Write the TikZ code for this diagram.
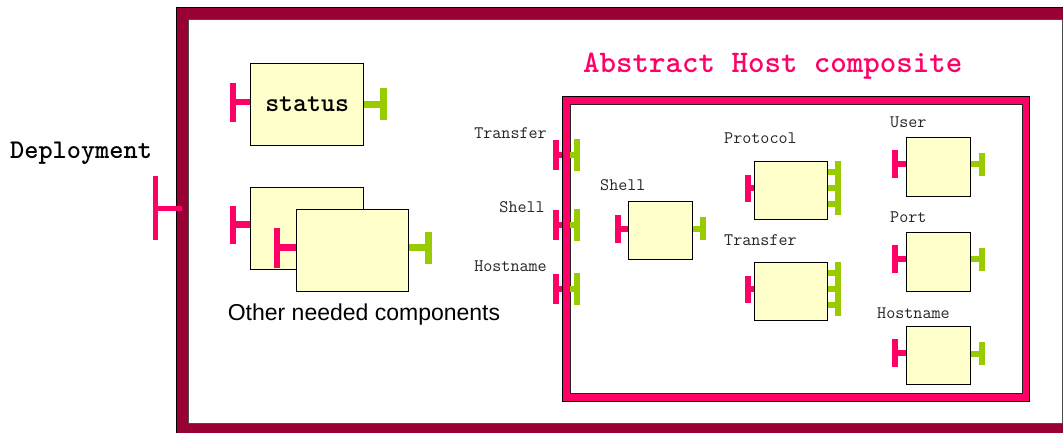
\documentclass[tikz,border=0pt]{standalone}
\usepackage{fontspec}
\setmainfont{Liberation Sans}
\usetikzlibrary{calc}
\definecolor{maroonc}{HTML}{990033}
\definecolor{hotpink}{HTML}{FF0066}
\definecolor{limeg}{HTML}{99CC00}
\definecolor{cream}{HTML}{FFFFCC}

\tikzset{
  comp/.style={draw=black, line width=1.3, fill=cream, inner sep=0pt, anchor=north west},
  lbl/.style={inner sep=0pt, font=\ttfamily\fontsize{17.6}{18}\selectfont, text=black!85},
  % provided port: pink T pointing left, #1 = stub length, #2 = half height, #3 = width
  pics/inport/.style n args={3}{code={
    \draw[hotpink, line width=#3] (0,0) -- (-#1,0);
    \draw[hotpink, line width=#3] (-#1,-#2) -- (-#1,#2);
  }},
  % required port: green T pointing right
  pics/outport/.style n args={3}{code={
    \draw[limeg, line width=#3] (0,0) -- (#1,0);
    \draw[limeg, line width=#3] (#1,-#2) -- (#1,#2);
  }},
  % three required ports sharing one bar
  pics/outtriple/.style n args={3}{code={
    \draw[limeg, line width=6] (0,-#3) -- (#1,-#3);
    \draw[limeg, line width=6] (0,0) -- (#1,0);
    \draw[limeg, line width=6] (0,#3) -- (#1,#3);
    \draw[limeg, line width=6] (#1,-#2) -- (#1,#2);
  }}
}

\begin{document}
\begin{tikzpicture}[x=1pt, y=-1pt]
\useasboundingbox (0,0) rectangle (1063,432);

% Deployment frame
\begin{scope}
  \clip (0,0) rectangle (1063,432);
  \filldraw[fill=maroonc, draw=black, line width=1] (176,7) rectangle (1085,445);
  \filldraw[fill=white, draw=black!70, line width=1] (188,19) rectangle (1062,423);
\end{scope}
\coordinate (depW) at (182,208);

\node[inner sep=0pt, anchor=west, font=\ttfamily\bfseries\fontsize{27}{28}\selectfont] (deplbl) at (10,153) {Deployment};
\pic at (depW) {inport={27}{32}{5}};

% status component
\node[comp, minimum width=113, minimum height=82] (st) at (250,63)
  {\ttfamily\bfseries\fontsize{26.6}{28}\selectfont status};
\pic at ($(st.west)+(0,-2.5)$) {inport={17}{19.5}{6.5}};
\pic at ($(st.east)+(0,-0.5)$) {outport={19}{16}{7}};

% other needed components
\node[comp, minimum width=113, minimum height=82] (oc1) at (250,187) {};
\pic at ($(oc1.west)+(0,-4)$) {inport={17}{19}{6.5}};
\node[comp, minimum width=112, minimum height=82] (oc2) at (296,209) {};
\pic at ($(oc2.west)+(0,-3)$) {inport={19}{20}{6.5}};
\pic at ($(oc2.east)+(0,-3)$) {outport={19}{16}{7}};
\node[inner sep=0pt, font=\fontsize{23}{25}\selectfont] (oclbl) at (364,315) {Other needed components};

% Abstract Host composite
\node[inner sep=0pt, anchor=west, text=hotpink, font=\ttfamily\bfseries\fontsize{31.4}{33}\selectfont] (hostlbl) at (583,66) {Abstract Host composite};
\filldraw[fill=hotpink, draw=black, line width=1] (562,96) rectangle (1029,401);
\filldraw[fill=white, draw=black!85, line width=1] (570,104) rectangle (1022,393);
\coordinate (hW1) at (562,155);
\coordinate (hW2) at (562,225);
\coordinate (hW3) at (562,289);
\coordinate (hI1) at (570,155);
\coordinate (hI2) at (570,225);
\coordinate (hI3) at (570,289);
\foreach \p in {hW1,hW2,hW3} { \pic at (\p) {inport={6}{15}{6}}; }
\foreach \p in {hI1,hI2,hI3} { \pic at (\p) {outport={7}{16}{6}}; }
\node[lbl, anchor=east] (bl1) at (547,133) {Transfer};
\node[lbl, anchor=east] (bl2) at (545,207) {Shell};
\node[lbl, anchor=east] (bl3) at (547,266) {Hostname};

% inner components
\node[comp, minimum width=64, minimum height=58] (sh) at (628,201) {};
\node[lbl, anchor=west] (shl) at (600,185) {Shell};
\pic at ($(sh.west)+(0,-2)$) {inport={10}{14}{6}};
\pic at ($(sh.east)+(0,-2)$) {outport={10}{11.5}{6}};

\node[comp, minimum width=73, minimum height=58] (pr) at (754,161) {};
\node[lbl, anchor=west] (prl) at (724,138) {Protocol};
\pic at ($(pr.west)+(0,-2.5)$) {inport={6}{13.5}{6}};
\pic at ($(pr.east)+(0,-2.5)$) {outtriple={10}{27}{16}};

\node[comp, minimum width=73, minimum height=58] (tr) at (754,262) {};
\node[lbl, anchor=west] (trl) at (724,240) {Transfer};
\pic at ($(tr.west)+(0,-2.5)$) {inport={6}{13.5}{6}};
\pic at ($(tr.east)+(0,-2.5)$) {outtriple={10}{27}{16}};

\node[comp, minimum width=64, minimum height=59] (us) at (906,137) {};
\node[lbl, anchor=west] (usl) at (890,122) {User};
\pic at ($(us.west)+(0,-3)$) {inport={11}{14}{6}};
\pic at ($(us.east)+(0,-3)$) {outport={11}{11.5}{6}};

\node[comp, minimum width=64, minimum height=59] (po) at (906,232) {};
\node[lbl, anchor=west] (pol) at (890,217) {Port};
\pic at ($(po.west)+(0,-3)$) {inport={11}{14}{6}};
\pic at ($(po.east)+(0,-3)$) {outport={11}{11.5}{6}};

\node[comp, minimum width=64, minimum height=58] (hn) at (906,326) {};
\node[lbl, anchor=west] (hnl) at (877,313) {Hostname};
\pic at ($(hn.west)+(0,-2.5)$) {inport={11}{14}{6}};
\pic at ($(hn.east)+(0,-2)$) {outport={11}{11.5}{6}};
\end{tikzpicture}
\end{document}
